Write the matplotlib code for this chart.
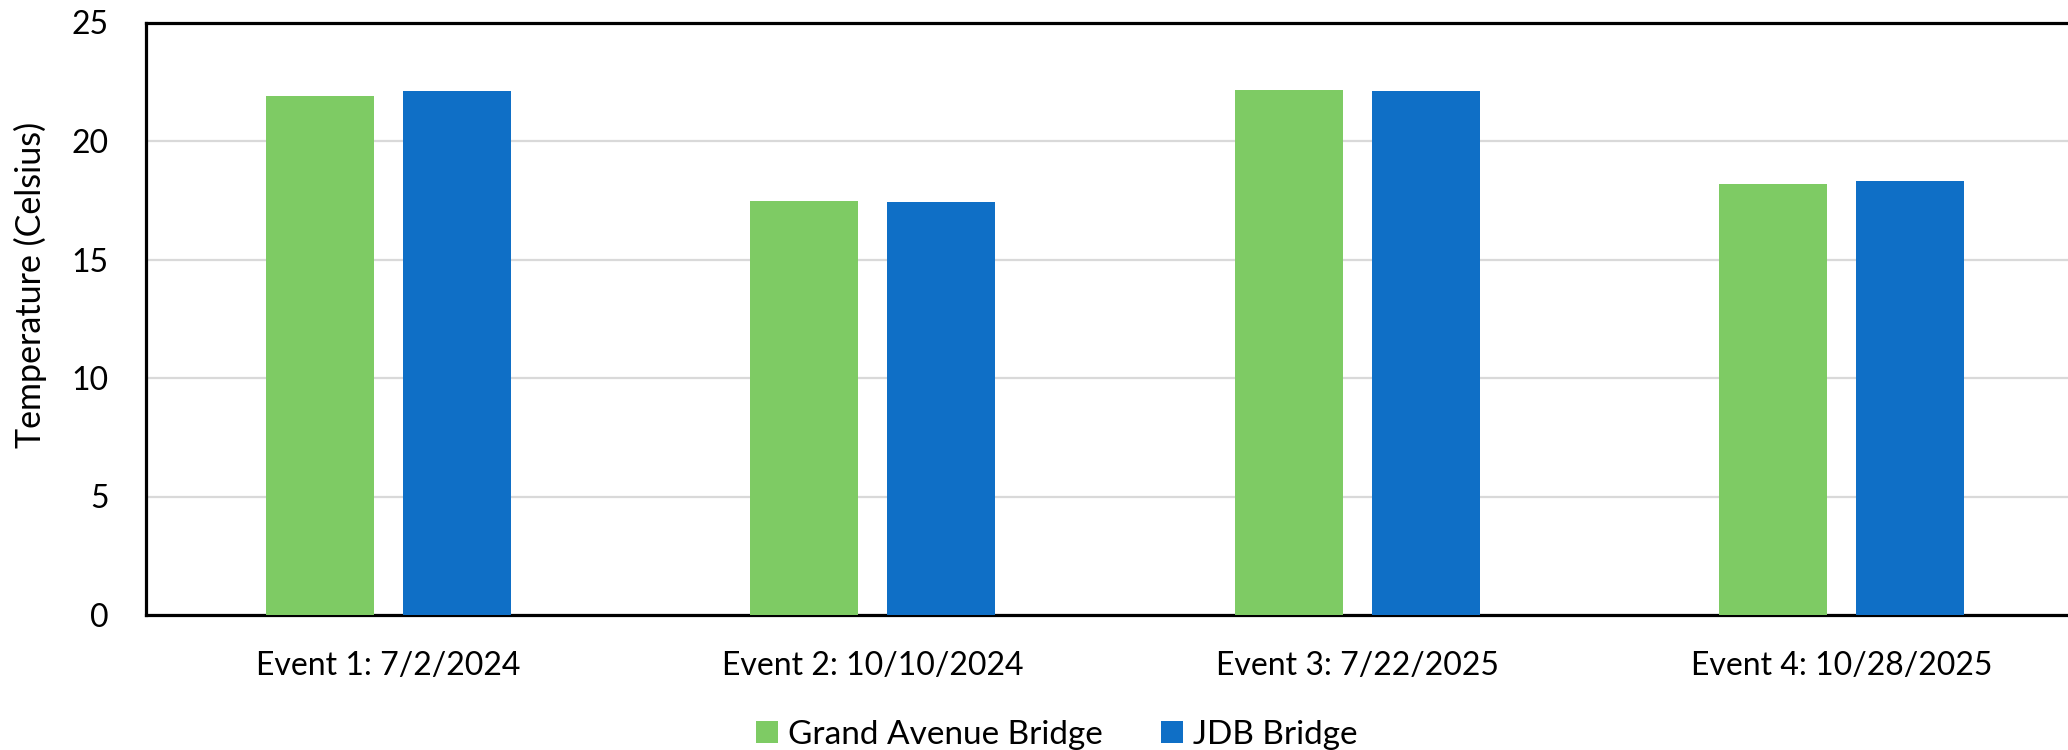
"""Bar chart of water temperature at two bridges for four sampling events."""
import numpy as np
import matplotlib
matplotlib.use('Agg')
import matplotlib.pyplot as plt
from matplotlib.patches import Patch

EVENTS = ['Event 1: 7/2/2024', 'Event 2: 10/10/2024',
          'Event 3: 7/22/2025', 'Event 4: 10/28/2025']
GRAND_AVE = [21.88, 17.48, 22.14, 18.17]
JDB = [22.10, 17.43, 22.09, 18.30]
SERIES = ['Grand Avenue Bridge', 'JDB Bridge']
COLORS = ['#7ecb64', '#0f6fc6']
Y_TICKS = [0, 5, 10, 15, 20, 25]

plt.rcParams['font.family'] = ['Lato', 'DejaVu Sans']


def main():
    fig = plt.figure(figsize=(20.68, 7.5), dpi=100)
    ax = fig.add_axes([0.0706, 0.180, 0.937, 0.790])

    x = np.arange(len(EVENTS))
    w = 0.223
    gap = 0.06
    ax.bar(x - (w + gap) / 2, GRAND_AVE, width=w, color=COLORS[0], zorder=3)
    ax.bar(x + (w + gap) / 2, JDB, width=w, color=COLORS[1], zorder=3)

    ax.set_xlim(-0.5, len(EVENTS) - 0.5)
    ax.set_ylim(0, 25)
    ax.set_yticks(Y_TICKS)
    ax.set_xticks(x)
    ax.set_xticklabels(EVENTS)
    ax.tick_params(axis='both', length=0, labelsize=23)
    ax.tick_params(axis='x', pad=26)
    ax.tick_params(axis='y', pad=27)
    ax.yaxis.grid(True, color='#d9d9d9', lw=1.6, zorder=0)
    ax.set_axisbelow(True)

    for side in ['left', 'top', 'bottom']:
        ax.spines[side].set_linewidth(2.3)
        ax.spines[side].set_color('black')
    ax.spines['right'].set_visible(False)

    # label sits a bit above the axis middle, as in the source chart
    ax.set_ylabel('Temperature (Celsius)', fontsize=24.5)
    ax.yaxis.set_label_coords(-0.051, 0.557)

    handles = [Patch(facecolor=c, label=s) for c, s in zip(COLORS, SERIES)]
    fig.legend(handles=handles, loc='center', bbox_to_anchor=(0.511, 0.02),
               ncol=2, frameon=False, fontsize=24, handlelength=0.65,
               handleheight=0.65, handletextpad=0.3, columnspacing=1.75)

    fig.savefig('out.png', dpi=100, facecolor='white')
    plt.close(fig)


if __name__ == '__main__':
    main()
